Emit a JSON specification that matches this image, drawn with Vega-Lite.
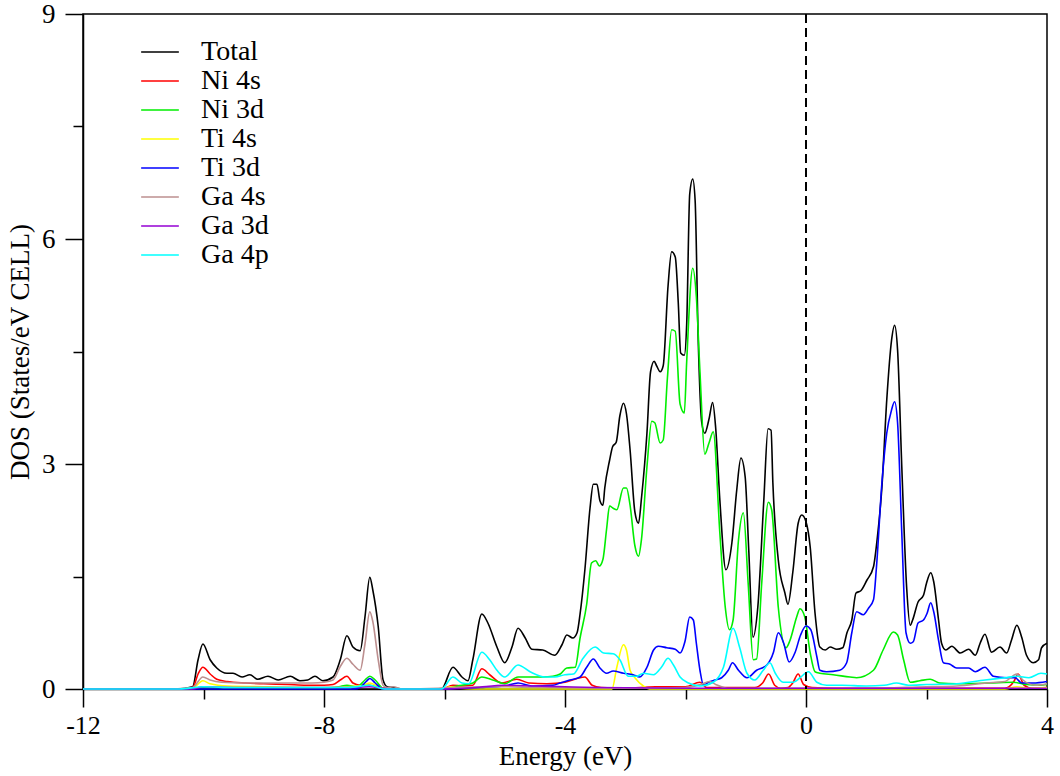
{
"$schema": "https://vega.github.io/schema/vega-lite/v6.json",
"width": 964, "height": 675,
"autosize": {"type": "none"},
"padding": {"left": 83, "top": 14, "right": 13, "bottom": 87},
"background": "white",
"config": {"view": {"stroke": "black", "strokeWidth": 1.5}, "font": "Liberation Serif"},
"datasets": {
"dos": [
{"s":"Total","e":-12,"v":0},{"s":"Total","e":-10.45,"v":0},{"s":"Total","e":-10.18,"v":0.03},{"s":"Total","e":-10.09,"v":0.39},{"s":"Total","e":-10.01,"v":0.6},{"s":"Total","e":-9.89,"v":0.39},{"s":"Total","e":-9.78,"v":0.28},{"s":"Total","e":-9.61,"v":0.21},{"s":"Total","e":-9.51,"v":0.21},{"s":"Total","e":-9.36,"v":0.16},{"s":"Total","e":-9.23,"v":0.19},{"s":"Total","e":-9.1,"v":0.13},{"s":"Total","e":-8.93,"v":0.17},{"s":"Total","e":-8.76,"v":0.12},{"s":"Total","e":-8.56,"v":0.17},{"s":"Total","e":-8.4,"v":0.11},{"s":"Total","e":-8.27,"v":0.12},{"s":"Total","e":-8.15,"v":0.17},{"s":"Total","e":-8.02,"v":0.11},{"s":"Total","e":-7.85,"v":0.16},{"s":"Total","e":-7.73,"v":0.39},{"s":"Total","e":-7.62,"v":0.71},{"s":"Total","e":-7.52,"v":0.56},{"s":"Total","e":-7.4,"v":0.51},{"s":"Total","e":-7.32,"v":0.96},{"s":"Total","e":-7.24,"v":1.49},{"s":"Total","e":-7.19,"v":1.32},{"s":"Total","e":-7.1,"v":0.83},{"s":"Total","e":-7.02,"v":0.12},{"s":"Total","e":-6.95,"v":0.03},{"s":"Total","e":-6.85,"v":0.02},{"s":"Total","e":-6.7,"v":0},{"s":"Total","e":-6.05,"v":0},{"s":"Total","e":-5.86,"v":0.29},{"s":"Total","e":-5.71,"v":0.16},{"s":"Total","e":-5.61,"v":0.11},{"s":"Total","e":-5.53,"v":0.39},{"s":"Total","e":-5.38,"v":1.0},{"s":"Total","e":-5.28,"v":0.88},{"s":"Total","e":-5.13,"v":0.56},{"s":"Total","e":-5.0,"v":0.35},{"s":"Total","e":-4.88,"v":0.56},{"s":"Total","e":-4.78,"v":0.81},{"s":"Total","e":-4.66,"v":0.68},{"s":"Total","e":-4.55,"v":0.53},{"s":"Total","e":-4.37,"v":0.52},{"s":"Total","e":-4.17,"v":0.45},{"s":"Total","e":-4.05,"v":0.59},{"s":"Total","e":-3.97,"v":0.72},{"s":"Total","e":-3.87,"v":0.68},{"s":"Total","e":-3.8,"v":0.75},{"s":"Total","e":-3.75,"v":1.0},{"s":"Total","e":-3.67,"v":1.59},{"s":"Total","e":-3.585,"v":2.41},{"s":"Total","e":-3.53,"v":2.73},{"s":"Total","e":-3.47,"v":2.73},{"s":"Total","e":-3.42,"v":2.51},{"s":"Total","e":-3.37,"v":2.45},{"s":"Total","e":-3.34,"v":2.68},{"s":"Total","e":-3.26,"v":3.05},{"s":"Total","e":-3.21,"v":3.23},{"s":"Total","e":-3.15,"v":3.29},{"s":"Total","e":-3.09,"v":3.64},{"s":"Total","e":-3.03,"v":3.81},{"s":"Total","e":-2.98,"v":3.67},{"s":"Total","e":-2.92,"v":3.19},{"s":"Total","e":-2.84,"v":2.36},{"s":"Total","e":-2.78,"v":2.21},{"s":"Total","e":-2.73,"v":2.55},{"s":"Total","e":-2.64,"v":3.41},{"s":"Total","e":-2.58,"v":4.23},{"s":"Total","e":-2.52,"v":4.37},{"s":"Total","e":-2.48,"v":4.31},{"s":"Total","e":-2.42,"v":4.23},{"s":"Total","e":-2.37,"v":4.31},{"s":"Total","e":-2.29,"v":5.37},{"s":"Total","e":-2.23,"v":5.83},{"s":"Total","e":-2.17,"v":5.76},{"s":"Total","e":-2.12,"v":5.15},{"s":"Total","e":-2.08,"v":4.48},{"s":"Total","e":-2.02,"v":4.45},{"s":"Total","e":-1.98,"v":4.87},{"s":"Total","e":-1.93,"v":6.6},{"s":"Total","e":-1.88,"v":6.8},{"s":"Total","e":-1.84,"v":6.51},{"s":"Total","e":-1.79,"v":4.69},{"s":"Total","e":-1.73,"v":3.55},{"s":"Total","e":-1.68,"v":3.41},{"s":"Total","e":-1.61,"v":3.6},{"s":"Total","e":-1.55,"v":3.82},{"s":"Total","e":-1.5,"v":3.49},{"s":"Total","e":-1.43,"v":2.52},{"s":"Total","e":-1.33,"v":1.59},{"s":"Total","e":-1.23,"v":1.95},{"s":"Total","e":-1.15,"v":2.65},{"s":"Total","e":-1.08,"v":3.08},{"s":"Total","e":-1.01,"v":2.83},{"s":"Total","e":-0.95,"v":1.85},{"s":"Total","e":-0.88,"v":0.69},{"s":"Total","e":-0.8,"v":1.09},{"s":"Total","e":-0.7,"v":2.52},{"s":"Total","e":-0.63,"v":3.47},{"s":"Total","e":-0.58,"v":3.45},{"s":"Total","e":-0.55,"v":2.75},{"s":"Total","e":-0.46,"v":1.72},{"s":"Total","e":-0.35,"v":1.28},{"s":"Total","e":-0.3,"v":1.13},{"s":"Total","e":-0.22,"v":1.55},{"s":"Total","e":-0.13,"v":2.21},{"s":"Total","e":-0.07,"v":2.32},{"s":"Total","e":0.0,"v":2.23},{"s":"Total","e":0.07,"v":1.89},{"s":"Total","e":0.15,"v":1.01},{"s":"Total","e":0.23,"v":0.56},{"s":"Total","e":0.32,"v":0.52},{"s":"Total","e":0.4,"v":0.56},{"s":"Total","e":0.51,"v":0.53},{"s":"Total","e":0.61,"v":0.55},{"s":"Total","e":0.68,"v":0.75},{"s":"Total","e":0.76,"v":0.92},{"s":"Total","e":0.83,"v":1.28},{"s":"Total","e":0.91,"v":1.31},{"s":"Total","e":1.01,"v":1.45},{"s":"Total","e":1.12,"v":1.63},{"s":"Total","e":1.18,"v":1.99},{"s":"Total","e":1.26,"v":2.69},{"s":"Total","e":1.34,"v":3.85},{"s":"Total","e":1.42,"v":4.65},{"s":"Total","e":1.47,"v":4.85},{"s":"Total","e":1.52,"v":4.52},{"s":"Total","e":1.59,"v":2.96},{"s":"Total","e":1.67,"v":1.36},{"s":"Total","e":1.73,"v":0.85},{"s":"Total","e":1.77,"v":0.92},{"s":"Total","e":1.86,"v":1.16},{"s":"Total","e":1.95,"v":1.25},{"s":"Total","e":2.0,"v":1.41},{"s":"Total","e":2.07,"v":1.55},{"s":"Total","e":2.12,"v":1.43},{"s":"Total","e":2.2,"v":0.92},{"s":"Total","e":2.25,"v":0.61},{"s":"Total","e":2.32,"v":0.52},{"s":"Total","e":2.42,"v":0.57},{"s":"Total","e":2.56,"v":0.48},{"s":"Total","e":2.7,"v":0.53},{"s":"Total","e":2.81,"v":0.45},{"s":"Total","e":2.89,"v":0.61},{"s":"Total","e":2.97,"v":0.73},{"s":"Total","e":3.08,"v":0.49},{"s":"Total","e":3.22,"v":0.56},{"s":"Total","e":3.33,"v":0.48},{"s":"Total","e":3.41,"v":0.65},{"s":"Total","e":3.5,"v":0.85},{"s":"Total","e":3.58,"v":0.69},{"s":"Total","e":3.66,"v":0.45},{"s":"Total","e":3.77,"v":0.35},{"s":"Total","e":3.86,"v":0.39},{"s":"Total","e":3.91,"v":0.55},{"s":"Total","e":4.0,"v":0.61},
{"s":"Ni 4s","e":-12,"v":0},{"s":"Ni 4s","e":-10.4,"v":0},{"s":"Ni 4s","e":-10.18,"v":0.02},{"s":"Ni 4s","e":-10.09,"v":0.2},{"s":"Ni 4s","e":-10.01,"v":0.29},{"s":"Ni 4s","e":-9.89,"v":0.2},{"s":"Ni 4s","e":-9.78,"v":0.13},{"s":"Ni 4s","e":-9.61,"v":0.1},{"s":"Ni 4s","e":-9.3,"v":0.08},{"s":"Ni 4s","e":-9.0,"v":0.07},{"s":"Ni 4s","e":-8.6,"v":0.06},{"s":"Ni 4s","e":-8.3,"v":0.05},{"s":"Ni 4s","e":-8.0,"v":0.05},{"s":"Ni 4s","e":-7.85,"v":0.06},{"s":"Ni 4s","e":-7.73,"v":0.12},{"s":"Ni 4s","e":-7.62,"v":0.17},{"s":"Ni 4s","e":-7.52,"v":0.08},{"s":"Ni 4s","e":-7.4,"v":0.05},{"s":"Ni 4s","e":-7.24,"v":0.05},{"s":"Ni 4s","e":-7.15,"v":0.03},{"s":"Ni 4s","e":-7.0,"v":0.01},{"s":"Ni 4s","e":-6.9,"v":0},{"s":"Ni 4s","e":-6.05,"v":0},{"s":"Ni 4s","e":-5.86,"v":0.05},{"s":"Ni 4s","e":-5.71,"v":0.04},{"s":"Ni 4s","e":-5.53,"v":0.05},{"s":"Ni 4s","e":-5.38,"v":0.27},{"s":"Ni 4s","e":-5.25,"v":0.19},{"s":"Ni 4s","e":-5.05,"v":0.08},{"s":"Ni 4s","e":-4.8,"v":0.13},{"s":"Ni 4s","e":-4.6,"v":0.08},{"s":"Ni 4s","e":-4.3,"v":0.07},{"s":"Ni 4s","e":-4.0,"v":0.09},{"s":"Ni 4s","e":-3.8,"v":0.14},{"s":"Ni 4s","e":-3.67,"v":0.16},{"s":"Ni 4s","e":-3.55,"v":0.05},{"s":"Ni 4s","e":-3.4,"v":0.02},{"s":"Ni 4s","e":-3.0,"v":0.01},{"s":"Ni 4s","e":-2.5,"v":0.03},{"s":"Ni 4s","e":-2.0,"v":0.03},{"s":"Ni 4s","e":-1.76,"v":0.09},{"s":"Ni 4s","e":-1.65,"v":0.02},{"s":"Ni 4s","e":-1.2,"v":0.02},{"s":"Ni 4s","e":-0.85,"v":0.02},{"s":"Ni 4s","e":-0.72,"v":0.08},{"s":"Ni 4s","e":-0.62,"v":0.2},{"s":"Ni 4s","e":-0.52,"v":0.05},{"s":"Ni 4s","e":-0.42,"v":0.01},{"s":"Ni 4s","e":-0.3,"v":0.02},{"s":"Ni 4s","e":-0.22,"v":0.08},{"s":"Ni 4s","e":-0.13,"v":0.2},{"s":"Ni 4s","e":-0.04,"v":0.06},{"s":"Ni 4s","e":0.1,"v":0.02},{"s":"Ni 4s","e":0.5,"v":0.01},{"s":"Ni 4s","e":3.3,"v":0.01},{"s":"Ni 4s","e":3.45,"v":0.1},{"s":"Ni 4s","e":3.52,"v":0.2},{"s":"Ni 4s","e":3.62,"v":0.05},{"s":"Ni 4s","e":3.75,"v":0.01},{"s":"Ni 4s","e":4.0,"v":0.02},
{"s":"Ni 3d","e":-12,"v":0},{"s":"Ni 3d","e":-10.4,"v":0},{"s":"Ni 3d","e":-10.0,"v":0.02},{"s":"Ni 3d","e":-9.5,"v":0.01},{"s":"Ni 3d","e":-8.0,"v":0.01},{"s":"Ni 3d","e":-7.75,"v":0.03},{"s":"Ni 3d","e":-7.62,"v":0.05},{"s":"Ni 3d","e":-7.45,"v":0.03},{"s":"Ni 3d","e":-7.32,"v":0.12},{"s":"Ni 3d","e":-7.24,"v":0.17},{"s":"Ni 3d","e":-7.15,"v":0.12},{"s":"Ni 3d","e":-7.02,"v":0.01},{"s":"Ni 3d","e":-6.9,"v":0},{"s":"Ni 3d","e":-6.05,"v":0},{"s":"Ni 3d","e":-5.86,"v":0.03},{"s":"Ni 3d","e":-5.71,"v":0.05},{"s":"Ni 3d","e":-5.53,"v":0.08},{"s":"Ni 3d","e":-5.38,"v":0.16},{"s":"Ni 3d","e":-5.2,"v":0.12},{"s":"Ni 3d","e":-5.0,"v":0.07},{"s":"Ni 3d","e":-4.78,"v":0.16},{"s":"Ni 3d","e":-4.55,"v":0.16},{"s":"Ni 3d","e":-4.37,"v":0.16},{"s":"Ni 3d","e":-4.2,"v":0.17},{"s":"Ni 3d","e":-4.08,"v":0.2},{"s":"Ni 3d","e":-3.97,"v":0.28},{"s":"Ni 3d","e":-3.83,"v":0.29},{"s":"Ni 3d","e":-3.75,"v":0.68},{"s":"Ni 3d","e":-3.64,"v":1.13},{"s":"Ni 3d","e":-3.56,"v":1.68},{"s":"Ni 3d","e":-3.49,"v":1.71},{"s":"Ni 3d","e":-3.43,"v":1.64},{"s":"Ni 3d","e":-3.37,"v":1.73},{"s":"Ni 3d","e":-3.31,"v":2.13},{"s":"Ni 3d","e":-3.26,"v":2.44},{"s":"Ni 3d","e":-3.2,"v":2.41},{"s":"Ni 3d","e":-3.14,"v":2.39},{"s":"Ni 3d","e":-3.03,"v":2.68},{"s":"Ni 3d","e":-2.98,"v":2.68},{"s":"Ni 3d","e":-2.92,"v":2.45},{"s":"Ni 3d","e":-2.84,"v":1.91},{"s":"Ni 3d","e":-2.78,"v":1.77},{"s":"Ni 3d","e":-2.73,"v":2.0},{"s":"Ni 3d","e":-2.64,"v":2.96},{"s":"Ni 3d","e":-2.56,"v":3.57},{"s":"Ni 3d","e":-2.51,"v":3.55},{"s":"Ni 3d","e":-2.42,"v":3.28},{"s":"Ni 3d","e":-2.37,"v":3.32},{"s":"Ni 3d","e":-2.3,"v":4.15},{"s":"Ni 3d","e":-2.23,"v":4.79},{"s":"Ni 3d","e":-2.17,"v":4.77},{"s":"Ni 3d","e":-2.09,"v":3.8},{"s":"Ni 3d","e":-2.02,"v":3.68},{"s":"Ni 3d","e":-1.98,"v":4.37},{"s":"Ni 3d","e":-1.88,"v":5.61},{"s":"Ni 3d","e":-1.82,"v":5.23},{"s":"Ni 3d","e":-1.76,"v":4.23},{"s":"Ni 3d","e":-1.68,"v":3.13},{"s":"Ni 3d","e":-1.61,"v":3.28},{"s":"Ni 3d","e":-1.54,"v":3.43},{"s":"Ni 3d","e":-1.43,"v":2.08},{"s":"Ni 3d","e":-1.34,"v":1.09},{"s":"Ni 3d","e":-1.27,"v":0.79},{"s":"Ni 3d","e":-1.21,"v":0.92},{"s":"Ni 3d","e":-1.12,"v":1.99},{"s":"Ni 3d","e":-1.04,"v":2.35},{"s":"Ni 3d","e":-0.96,"v":1.41},{"s":"Ni 3d","e":-0.875,"v":0.39},{"s":"Ni 3d","e":-0.82,"v":0.4},{"s":"Ni 3d","e":-0.735,"v":1.41},{"s":"Ni 3d","e":-0.625,"v":2.49},{"s":"Ni 3d","e":-0.57,"v":2.39},{"s":"Ni 3d","e":-0.46,"v":1.09},{"s":"Ni 3d","e":-0.33,"v":0.55},{"s":"Ni 3d","e":-0.265,"v":0.65},{"s":"Ni 3d","e":-0.155,"v":0.96},{"s":"Ni 3d","e":-0.1,"v":1.07},{"s":"Ni 3d","e":-0.02,"v":0.96},{"s":"Ni 3d","e":0.07,"v":0.48},{"s":"Ni 3d","e":0.15,"v":0.23},{"s":"Ni 3d","e":0.23,"v":0.21},{"s":"Ni 3d","e":0.45,"v":0.19},{"s":"Ni 3d","e":0.73,"v":0.16},{"s":"Ni 3d","e":0.84,"v":0.15},{"s":"Ni 3d","e":1.12,"v":0.25},{"s":"Ni 3d","e":1.28,"v":0.52},{"s":"Ni 3d","e":1.45,"v":0.76},{"s":"Ni 3d","e":1.52,"v":0.72},{"s":"Ni 3d","e":1.62,"v":0.39},{"s":"Ni 3d","e":1.73,"v":0.09},{"s":"Ni 3d","e":1.89,"v":0.11},{"s":"Ni 3d","e":2.06,"v":0.13},{"s":"Ni 3d","e":2.22,"v":0.08},{"s":"Ni 3d","e":2.5,"v":0.07},{"s":"Ni 3d","e":3.05,"v":0.08},{"s":"Ni 3d","e":3.44,"v":0.09},{"s":"Ni 3d","e":3.66,"v":0.06},{"s":"Ni 3d","e":3.88,"v":0.05},{"s":"Ni 3d","e":4.0,"v":0.06},
{"s":"Ti 4s","e":-12,"v":0},{"s":"Ti 4s","e":-10.4,"v":0},{"s":"Ti 4s","e":-10.18,"v":0.01},{"s":"Ti 4s","e":-10.01,"v":0.11},{"s":"Ti 4s","e":-9.89,"v":0.07},{"s":"Ti 4s","e":-9.6,"v":0.04},{"s":"Ti 4s","e":-9.0,"v":0.03},{"s":"Ti 4s","e":-8.0,"v":0.02},{"s":"Ti 4s","e":-7.6,"v":0.03},{"s":"Ti 4s","e":-7.35,"v":0.05},{"s":"Ti 4s","e":-7.24,"v":0.08},{"s":"Ti 4s","e":-7.1,"v":0.03},{"s":"Ti 4s","e":-6.95,"v":0},{"s":"Ti 4s","e":-6.05,"v":0},{"s":"Ti 4s","e":-5.9,"v":0.03},{"s":"Ti 4s","e":-5.75,"v":0.01},{"s":"Ti 4s","e":-5.5,"v":0},{"s":"Ti 4s","e":-3.22,"v":0},{"s":"Ti 4s","e":-3.14,"v":0.29},{"s":"Ti 4s","e":-3.03,"v":0.59},{"s":"Ti 4s","e":-2.98,"v":0.52},{"s":"Ti 4s","e":-2.92,"v":0.25},{"s":"Ti 4s","e":-2.84,"v":0.15},{"s":"Ti 4s","e":-2.7,"v":0.04},{"s":"Ti 4s","e":-2.6,"v":0},{"s":"Ti 4s","e":3.3,"v":0},{"s":"Ti 4s","e":3.5,"v":0.03},{"s":"Ti 4s","e":3.7,"v":0.01},{"s":"Ti 4s","e":4.0,"v":0.02},
{"s":"Ti 3d","e":-12,"v":0},{"s":"Ti 3d","e":-7.5,"v":0},{"s":"Ti 3d","e":-7.4,"v":0.02},{"s":"Ti 3d","e":-7.3,"v":0.1},{"s":"Ti 3d","e":-7.24,"v":0.14},{"s":"Ti 3d","e":-7.15,"v":0.08},{"s":"Ti 3d","e":-7.02,"v":0},{"s":"Ti 3d","e":-6.05,"v":0},{"s":"Ti 3d","e":-5.8,"v":0.01},{"s":"Ti 3d","e":-5.4,"v":0.02},{"s":"Ti 3d","e":-5.0,"v":0.04},{"s":"Ti 3d","e":-4.78,"v":0.08},{"s":"Ti 3d","e":-4.55,"v":0.04},{"s":"Ti 3d","e":-4.2,"v":0.05},{"s":"Ti 3d","e":-4.08,"v":0.08},{"s":"Ti 3d","e":-3.92,"v":0.12},{"s":"Ti 3d","e":-3.75,"v":0.16},{"s":"Ti 3d","e":-3.64,"v":0.29},{"s":"Ti 3d","e":-3.53,"v":0.4},{"s":"Ti 3d","e":-3.42,"v":0.28},{"s":"Ti 3d","e":-3.31,"v":0.21},{"s":"Ti 3d","e":-3.2,"v":0.24},{"s":"Ti 3d","e":-3.03,"v":0.21},{"s":"Ti 3d","e":-2.87,"v":0.19},{"s":"Ti 3d","e":-2.76,"v":0.16},{"s":"Ti 3d","e":-2.64,"v":0.29},{"s":"Ti 3d","e":-2.53,"v":0.52},{"s":"Ti 3d","e":-2.45,"v":0.57},{"s":"Ti 3d","e":-2.31,"v":0.55},{"s":"Ti 3d","e":-2.17,"v":0.53},{"s":"Ti 3d","e":-2.09,"v":0.48},{"s":"Ti 3d","e":-2.01,"v":0.63},{"s":"Ti 3d","e":-1.93,"v":0.96},{"s":"Ti 3d","e":-1.87,"v":0.92},{"s":"Ti 3d","e":-1.82,"v":0.61},{"s":"Ti 3d","e":-1.76,"v":0.25},{"s":"Ti 3d","e":-1.7,"v":0.05},{"s":"Ti 3d","e":-1.62,"v":0.09},{"s":"Ti 3d","e":-1.51,"v":0.12},{"s":"Ti 3d","e":-1.4,"v":0.15},{"s":"Ti 3d","e":-1.29,"v":0.25},{"s":"Ti 3d","e":-1.22,"v":0.35},{"s":"Ti 3d","e":-1.12,"v":0.25},{"s":"Ti 3d","e":-0.98,"v":0.15},{"s":"Ti 3d","e":-0.82,"v":0.25},{"s":"Ti 3d","e":-0.65,"v":0.32},{"s":"Ti 3d","e":-0.54,"v":0.49},{"s":"Ti 3d","e":-0.46,"v":0.75},{"s":"Ti 3d","e":-0.37,"v":0.61},{"s":"Ti 3d","e":-0.28,"v":0.36},{"s":"Ti 3d","e":-0.18,"v":0.49},{"s":"Ti 3d","e":-0.09,"v":0.72},{"s":"Ti 3d","e":0.0,"v":0.84},{"s":"Ti 3d","e":0.08,"v":0.79},{"s":"Ti 3d","e":0.18,"v":0.43},{"s":"Ti 3d","e":0.23,"v":0.25},{"s":"Ti 3d","e":0.34,"v":0.23},{"s":"Ti 3d","e":0.56,"v":0.25},{"s":"Ti 3d","e":0.675,"v":0.35},{"s":"Ti 3d","e":0.76,"v":0.75},{"s":"Ti 3d","e":0.84,"v":1.03},{"s":"Ti 3d","e":0.95,"v":0.99},{"s":"Ti 3d","e":1.04,"v":1.08},{"s":"Ti 3d","e":1.12,"v":1.19},{"s":"Ti 3d","e":1.17,"v":1.63},{"s":"Ti 3d","e":1.26,"v":2.75},{"s":"Ti 3d","e":1.34,"v":3.41},{"s":"Ti 3d","e":1.42,"v":3.72},{"s":"Ti 3d","e":1.47,"v":3.83},{"s":"Ti 3d","e":1.52,"v":3.55},{"s":"Ti 3d","e":1.59,"v":2.08},{"s":"Ti 3d","e":1.66,"v":0.75},{"s":"Ti 3d","e":1.73,"v":0.61},{"s":"Ti 3d","e":1.78,"v":0.63},{"s":"Ti 3d","e":1.86,"v":0.88},{"s":"Ti 3d","e":1.95,"v":0.92},{"s":"Ti 3d","e":2.01,"v":1.01},{"s":"Ti 3d","e":2.07,"v":1.15},{"s":"Ti 3d","e":2.12,"v":1.03},{"s":"Ti 3d","e":2.2,"v":0.65},{"s":"Ti 3d","e":2.28,"v":0.35},{"s":"Ti 3d","e":2.39,"v":0.33},{"s":"Ti 3d","e":2.5,"v":0.28},{"s":"Ti 3d","e":2.7,"v":0.28},{"s":"Ti 3d","e":2.81,"v":0.23},{"s":"Ti 3d","e":2.97,"v":0.29},{"s":"Ti 3d","e":3.11,"v":0.17},{"s":"Ti 3d","e":3.33,"v":0.15},{"s":"Ti 3d","e":3.47,"v":0.15},{"s":"Ti 3d","e":3.58,"v":0.08},{"s":"Ti 3d","e":3.77,"v":0.08},{"s":"Ti 3d","e":4.0,"v":0.1},
{"s":"Ga 4s","e":-12,"v":0},{"s":"Ga 4s","e":-10.5,"v":0},{"s":"Ga 4s","e":-10.3,"v":0.01},{"s":"Ga 4s","e":-10.18,"v":0.02},{"s":"Ga 4s","e":-10.01,"v":0.16},{"s":"Ga 4s","e":-9.89,"v":0.12},{"s":"Ga 4s","e":-9.7,"v":0.09},{"s":"Ga 4s","e":-9.3,"v":0.08},{"s":"Ga 4s","e":-8.6,"v":0.08},{"s":"Ga 4s","e":-8.2,"v":0.08},{"s":"Ga 4s","e":-8.0,"v":0.09},{"s":"Ga 4s","e":-7.85,"v":0.12},{"s":"Ga 4s","e":-7.73,"v":0.3},{"s":"Ga 4s","e":-7.62,"v":0.41},{"s":"Ga 4s","e":-7.52,"v":0.33},{"s":"Ga 4s","e":-7.4,"v":0.25},{"s":"Ga 4s","e":-7.32,"v":0.6},{"s":"Ga 4s","e":-7.24,"v":1.03},{"s":"Ga 4s","e":-7.19,"v":0.9},{"s":"Ga 4s","e":-7.1,"v":0.39},{"s":"Ga 4s","e":-7.02,"v":0.05},{"s":"Ga 4s","e":-6.95,"v":0.02},{"s":"Ga 4s","e":-6.85,"v":0.03},{"s":"Ga 4s","e":-6.7,"v":0},{"s":"Ga 4s","e":-6.1,"v":0.01},{"s":"Ga 4s","e":-5.9,"v":0.02},{"s":"Ga 4s","e":-5.0,"v":0.03},{"s":"Ga 4s","e":-4.5,"v":0.02},{"s":"Ga 4s","e":-3.0,"v":0.01},{"s":"Ga 4s","e":-2.0,"v":0.02},{"s":"Ga 4s","e":-1.75,"v":0.06},{"s":"Ga 4s","e":-1.6,"v":0.1},{"s":"Ga 4s","e":-1.5,"v":0.06},{"s":"Ga 4s","e":-1.3,"v":0.01},{"s":"Ga 4s","e":1.0,"v":0.01},{"s":"Ga 4s","e":2.0,"v":0.03},{"s":"Ga 4s","e":2.5,"v":0.04},{"s":"Ga 4s","e":3.0,"v":0.08},{"s":"Ga 4s","e":3.3,"v":0.1},{"s":"Ga 4s","e":3.5,"v":0.2},{"s":"Ga 4s","e":3.6,"v":0.12},{"s":"Ga 4s","e":3.8,"v":0.05},{"s":"Ga 4s","e":4.0,"v":0.07},
{"s":"Ga 3d","e":-12,"v":0},{"s":"Ga 3d","e":-10.2,"v":0},{"s":"Ga 3d","e":-10.0,"v":0.03},{"s":"Ga 3d","e":-9.5,"v":0.02},{"s":"Ga 3d","e":-7.6,"v":0.02},{"s":"Ga 3d","e":-7.25,"v":0.03},{"s":"Ga 3d","e":-6.9,"v":0},{"s":"Ga 3d","e":-6.0,"v":0},{"s":"Ga 3d","e":-5.5,"v":0.02},{"s":"Ga 3d","e":-5.0,"v":0.05},{"s":"Ga 3d","e":-4.5,"v":0.04},{"s":"Ga 3d","e":-4.0,"v":0.03},{"s":"Ga 3d","e":-3.5,"v":0.02},{"s":"Ga 3d","e":-2.0,"v":0.01},{"s":"Ga 3d","e":4.0,"v":0.01},
{"s":"Ga 4p","e":-12,"v":0},{"s":"Ga 4p","e":-10.4,"v":0},{"s":"Ga 4p","e":-10.0,"v":0.03},{"s":"Ga 4p","e":-9.5,"v":0.02},{"s":"Ga 4p","e":-8.0,"v":0.02},{"s":"Ga 4p","e":-7.6,"v":0.02},{"s":"Ga 4p","e":-7.24,"v":0.05},{"s":"Ga 4p","e":-7.0,"v":0},{"s":"Ga 4p","e":-6.05,"v":0},{"s":"Ga 4p","e":-5.86,"v":0.16},{"s":"Ga 4p","e":-5.71,"v":0.08},{"s":"Ga 4p","e":-5.6,"v":0.07},{"s":"Ga 4p","e":-5.38,"v":0.49},{"s":"Ga 4p","e":-5.25,"v":0.39},{"s":"Ga 4p","e":-5.13,"v":0.25},{"s":"Ga 4p","e":-5.0,"v":0.16},{"s":"Ga 4p","e":-4.78,"v":0.32},{"s":"Ga 4p","e":-4.58,"v":0.23},{"s":"Ga 4p","e":-4.33,"v":0.16},{"s":"Ga 4p","e":-4.17,"v":0.16},{"s":"Ga 4p","e":-4.0,"v":0.19},{"s":"Ga 4p","e":-3.86,"v":0.2},{"s":"Ga 4p","e":-3.7,"v":0.41},{"s":"Ga 4p","e":-3.5,"v":0.56},{"s":"Ga 4p","e":-3.36,"v":0.48},{"s":"Ga 4p","e":-3.2,"v":0.47},{"s":"Ga 4p","e":-3.09,"v":0.39},{"s":"Ga 4p","e":-2.95,"v":0.17},{"s":"Ga 4p","e":-2.81,"v":0.17},{"s":"Ga 4p","e":-2.7,"v":0.21},{"s":"Ga 4p","e":-2.53,"v":0.19},{"s":"Ga 4p","e":-2.4,"v":0.29},{"s":"Ga 4p","e":-2.29,"v":0.41},{"s":"Ga 4p","e":-2.2,"v":0.32},{"s":"Ga 4p","e":-2.09,"v":0.16},{"s":"Ga 4p","e":-1.95,"v":0.08},{"s":"Ga 4p","e":-1.76,"v":0.04},{"s":"Ga 4p","e":-1.54,"v":0.09},{"s":"Ga 4p","e":-1.37,"v":0.29},{"s":"Ga 4p","e":-1.21,"v":0.81},{"s":"Ga 4p","e":-1.1,"v":0.55},{"s":"Ga 4p","e":-0.98,"v":0.21},{"s":"Ga 4p","e":-0.85,"v":0.12},{"s":"Ga 4p","e":-0.71,"v":0.25},{"s":"Ga 4p","e":-0.6,"v":0.35},{"s":"Ga 4p","e":-0.51,"v":0.21},{"s":"Ga 4p","e":-0.38,"v":0.09},{"s":"Ga 4p","e":-0.21,"v":0.09},{"s":"Ga 4p","e":-0.1,"v":0.15},{"s":"Ga 4p","e":0.04,"v":0.23},{"s":"Ga 4p","e":0.18,"v":0.09},{"s":"Ga 4p","e":0.34,"v":0.05},{"s":"Ga 4p","e":0.6,"v":0.05},{"s":"Ga 4p","e":1.0,"v":0.04},{"s":"Ga 4p","e":1.3,"v":0.05},{"s":"Ga 4p","e":1.5,"v":0.08},{"s":"Ga 4p","e":1.7,"v":0.05},{"s":"Ga 4p","e":2.0,"v":0.06},{"s":"Ga 4p","e":2.5,"v":0.07},{"s":"Ga 4p","e":2.97,"v":0.12},{"s":"Ga 4p","e":3.3,"v":0.15},{"s":"Ga 4p","e":3.5,"v":0.17},{"s":"Ga 4p","e":3.7,"v":0.15},{"s":"Ga 4p","e":3.9,"v":0.21},{"s":"Ga 4p","e":4.0,"v":0.2}
]
},
"data": {"name": "dos"},
"layer": [
{
"mark": {"type": "line", "strokeWidth": 1.6, "interpolate": "monotone"},
"encoding": {
"x": {"field": "e", "type": "quantitative",
  "scale": {"domain": [-12, 4], "nice": false, "zero": false},
  "axis": {"values": [-12,-10,-8,-6,-4,-2,0,2,4], "title": "Energy (eV)", "grid": false,
    "labelExpr": "datum.value % 4 === 0 ? datum.value + '' : ''",
    "tickSize": {"condition": {"test": "datum.value % 4 === 0", "value": 18}, "value": 10},
    "tickColor": "black", "tickWidth": 1.5, "domainColor": "black", "domainWidth": 1.5,
    "labelFont": "Liberation Serif", "labelFontSize": 26, "labelFontWeight": "normal", "labelColor": "black", "labelPadding": 5, "labelFlush": false,
    "titleFont": "Liberation Serif", "titleFontSize": 27, "titleFontWeight": "normal", "titleColor": "black", "titlePadding": 5}},
"y": {"field": "v", "type": "quantitative",
  "scale": {"domain": [0, 9], "nice": false},
  "axis": {"values": [0,1.5,3,4.5,6,7.5,9], "title": "DOS (States/eV CELL)", "grid": false,
    "labelExpr": "datum.value % 3 === 0 ? datum.value + '' : ''",
    "tickSize": {"condition": {"test": "datum.value % 3 === 0", "value": 18}, "value": 10},
    "tickColor": "black", "tickWidth": 1.5, "domainColor": "black", "domainWidth": 1.5,
    "labelFont": "Liberation Serif", "labelFontSize": 27, "labelFontWeight": "normal", "labelColor": "black", "labelPadding": 10,
    "titleFont": "Liberation Serif", "titleFontSize": 27, "titleFontWeight": "normal", "titleColor": "black", "titlePadding": 7}},
"color": {"field": "s", "type": "nominal",
  "scale": {"domain": ["Total","Ni 4s","Ni 3d","Ti 4s","Ti 3d","Ga 4s","Ga 3d","Ga 4p"],
            "range": ["#000000","#ff0000","#00ee00","#ffff00","#0000ff","#bc8f8f","#9400d3","#00ffff"]},
  "legend": {"orient": "none", "legendX": 63, "legendY": 24, "title": null,
    "symbolType": "M-2.9,0H2.9", "symbolSize": 169, "symbolStrokeWidth": 1.5,
    "labelFont": "Liberation Serif", "labelFontSize": 28, "labelFontWeight": "normal", "labelColor": "black",
    "labelOffset": 27, "rowPadding": 1, "padding": 0}}
}
},
{
"mark": {"type": "rule", "strokeDash": [9, 5], "strokeWidth": 1.5, "color": "black"},
"encoding": {"x": {"datum": 0}}
}
]
}
